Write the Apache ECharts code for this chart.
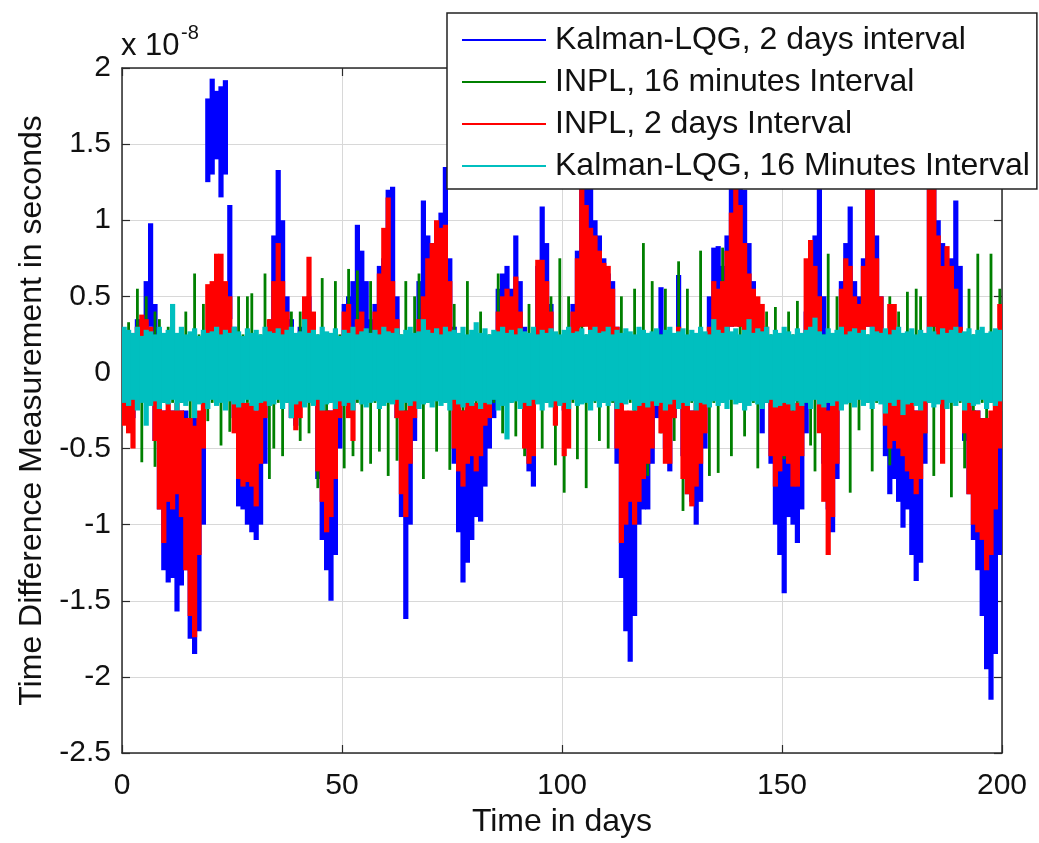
<!DOCTYPE html>
<html>
<head>
<meta charset="utf-8">
<script src="https://cdn.jsdelivr.net/npm/echarts@6/dist/echarts.min.js"></script>
<style>
html,body{margin:0;padding:0;background:#fff;}
#chart{width:1039px;height:843px;}
</style>
</head>
<body>
<div id="chart"></div>
<script>
// Values in units of 1e-8 s: daily maximum (Hi) and minimum (Lo) for day 0..199
const seriesNames = ['Kalman-LQG, 2 days interval','INPL, 16 minutes Interval','INPL, 2 days Interval','Kalman-LQG, 16 Minutes Interval'];
const xTicks = [0, 50, 100, 150, 200];
const yTicks = [-2.5, -2, -1.5, -1, -0.5, 0, 0.5, 1, 1.5, 2];

const blueHi = [
0.15,0.2,0.25,0.35,0.35,0.6,0.98,0.45,-0.25,-0.25,
-0.25,-0.25,-0.25,-0.25,-0.25,-0.3,-0.3,-0.3,-0.25,1.8,
1.93,1.85,1.88,1.92,1.1,0.3,-0.2,-0.25,-0.25,-0.25,
-0.25,-0.25,-0.2,0.3,0.9,1.33,1.0,0.5,0.35,0.15,
0.3,0.48,0.5,0.3,-0.2,-0.25,-0.25,-0.25,-0.25,0.1,
0.45,0.5,0.6,0.97,0.8,0.6,0.35,0.45,0.7,0.75,
1.2,1.22,0.5,-0.2,-0.25,-0.25,0.2,0.6,1.13,0.9,
0.85,0.9,1.05,1.35,0.75,0.3,-0.25,-0.25,-0.25,-0.25,
-0.25,-0.25,-0.2,0.1,0.2,0.55,0.65,0.7,0.55,0.9,
0.6,0.3,-0.2,-0.2,0.7,1.09,0.85,0.45,0.2,0.2,
0.15,0.2,0.45,0.8,1.45,1.4,1.25,1.0,0.9,0.75,
0.65,0.6,0.3,-0.25,-0.3,-0.3,-0.3,-0.25,-0.25,-0.25,
-0.2,0.2,0.56,0.1,-0.2,0.2,0.64,-0.2,-0.25,-0.25,
-0.25,-0.25,0.1,0.5,0.82,0.83,0.7,0.9,1.25,1.45,
1.4,1.2,0.85,0.6,0.35,0.3,0.2,-0.2,-0.25,-0.25,
-0.25,-0.25,-0.25,-0.25,-0.2,0.4,0.7,0.9,1.3,0.5,
-0.2,-0.2,0.1,0.6,0.85,1.09,0.6,0.5,0.75,1.3,
1.4,0.9,0.5,0.2,-0.2,-0.2,-0.25,-0.25,-0.25,-0.25,
-0.25,-0.25,0.1,1.35,1.4,1.0,0.85,0.7,0.75,1.13,
0.7,0.2,-0.2,-0.25,-0.25,-0.3,-0.3,-0.3,-0.3,-0.2];
const blueLo = [
-0.2,-0.2,-0.3,-0.2,0.1,0.2,0.3,-0.45,-0.9,-1.3,
-1.38,-1.35,-1.57,-1.4,-1.3,-1.75,-1.85,-1.7,-1.0,1.25,
1.3,1.4,1.15,1.3,0.35,-0.3,-0.88,-0.9,-1.0,-1.05,
-1.1,-1.0,-0.6,0.1,0.25,0.3,0.25,0.1,-0.3,-0.35,
0.0,0.1,0.15,-0.2,-0.7,-1.1,-1.3,-1.5,-1.2,-0.5,
0.1,0.15,0.1,0.25,0.2,0.15,0.1,0.1,0.2,0.25,
0.2,0.15,-0.3,-0.95,-1.62,-1.0,-0.45,0.1,0.2,0.25,
0.2,0.25,0.3,0.25,0.1,-0.6,-1.05,-1.38,-1.25,-1.1,
-0.95,-0.98,-0.75,-0.5,-0.3,0.1,0.15,0.2,0.15,0.2,
0.1,-0.3,-0.65,-0.75,0.1,0.2,0.15,0.0,-0.2,-0.2,
-0.25,-0.2,0.1,0.2,0.3,0.35,0.3,0.25,0.2,0.2,
0.15,0.1,-0.6,-1.35,-1.7,-1.9,-1.6,-1.0,-0.9,-0.9,
-0.6,-0.3,0.1,-0.5,-0.65,-0.3,0.1,-0.55,-0.8,-0.85,
-1.0,-0.85,-0.5,0.1,0.2,0.2,0.15,0.25,0.3,0.35,
0.3,0.25,0.2,0.1,0.0,-0.4,-0.2,-0.6,-1.0,-1.2,
-1.45,-0.95,-1.0,-1.12,-0.9,-0.4,0.1,0.2,0.2,-0.6,
-0.9,-1.05,-0.7,0.1,0.2,0.2,0.1,0.1,0.2,0.3,
0.3,0.15,0.0,-0.55,-0.8,-0.7,-0.85,-1.02,-0.9,-1.2,
-1.37,-1.25,-0.6,0.2,0.3,0.25,0.2,0.15,0.2,0.2,
0.0,-0.45,-0.8,-1.1,-1.3,-1.6,-1.95,-2.15,-1.85,-1.2];

const greenHi = [
0.25,0.33,0.25,0.55,0.25,0.5,0.25,0.4,0.35,0.25,
0.3,0.33,0.25,0.25,0.4,0.25,0.65,0.25,0.45,0.25,
0.35,0.25,0.4,0.25,0.45,0.25,0.5,0.25,0.5,0.52,
0.25,0.25,0.65,0.35,0.25,0.25,0.45,0.25,0.4,0.25,
0.4,0.25,0.45,0.25,0.25,0.62,0.25,0.25,0.6,0.25,
0.25,0.68,0.25,0.67,0.25,0.25,0.6,0.25,0.55,0.25,
0.25,0.45,0.25,0.25,0.6,0.25,0.5,0.65,0.25,0.25,
0.25,0.55,0.25,0.25,0.25,0.45,0.25,0.25,0.6,0.25,
0.25,0.4,0.25,0.25,0.25,0.65,0.25,0.25,0.4,0.25,
0.25,0.25,0.45,0.25,0.25,0.45,0.25,0.5,0.25,0.75,
0.25,0.5,0.25,0.25,0.6,0.25,0.45,0.25,0.25,0.5,
0.25,0.5,0.25,0.5,0.25,0.25,0.55,0.25,0.85,0.25,
0.6,0.25,0.25,0.55,0.25,0.25,0.73,0.25,0.55,0.25,
0.25,0.8,0.25,0.25,0.5,0.25,0.82,0.25,0.25,0.25,
0.5,0.25,0.25,0.45,0.25,0.25,0.4,0.25,0.43,0.25,
0.25,0.4,0.25,0.47,0.25,0.45,0.25,0.25,0.4,0.25,
0.78,0.25,0.5,0.25,0.25,0.45,0.25,0.25,0.58,0.25,
0.25,0.45,0.25,0.25,0.5,0.25,0.4,0.25,0.53,0.25,
0.55,0.5,0.25,0.25,0.5,0.25,0.25,0.55,0.25,0.5,
0.25,0.25,0.55,0.25,0.78,0.25,0.25,0.78,0.25,0.55];
const greenLo = [
-0.2,-0.2,-0.2,-0.2,-0.59,-0.2,-0.2,-0.62,-0.2,-0.2,
-0.46,-0.2,-0.5,-0.2,-0.2,-0.57,-0.2,-0.2,-0.29,-0.32,
-0.2,-0.2,-0.48,-0.2,-0.39,-0.2,-0.2,-0.45,-0.2,-0.5,
-0.2,-0.2,-0.2,-0.7,-0.5,-0.2,-0.55,-0.2,-0.2,-0.2,
-0.45,-0.2,-0.4,-0.2,-0.76,-0.2,-0.5,-0.2,-0.2,-0.2,
-0.63,-0.2,-0.55,-0.2,-0.65,-0.2,-0.6,-0.2,-0.52,-0.2,
-0.68,-0.2,-0.58,-0.2,-0.5,-0.2,-0.2,-0.2,-0.7,-0.2,
-0.2,-0.52,-0.2,-0.2,-0.64,-0.2,-0.2,-0.5,-0.2,-0.2,
-0.45,-0.2,-0.2,-0.2,-0.2,-0.2,-0.4,-0.2,-0.2,-0.42,
-0.2,-0.55,-0.2,-0.2,-0.2,-0.5,-0.2,-0.2,-0.61,-0.2,
-0.79,-0.2,-0.2,-0.57,-0.2,-0.76,-0.2,-0.2,-0.45,-0.2,
-0.5,-0.2,-0.2,-0.45,-0.2,-0.2,-0.5,-0.2,-0.2,-0.68,
-0.2,-0.2,-0.4,-0.2,-0.2,-0.45,-0.2,-0.91,-0.2,-0.2,
-0.4,-0.2,-0.2,-0.68,-0.2,-0.66,-0.2,-0.2,-0.55,-0.2,
-0.2,-0.42,-0.2,-0.2,-0.63,-0.2,-0.2,-0.5,-0.2,-0.2,
-0.57,-0.2,-0.45,-0.2,-0.2,-0.2,-0.48,-0.65,-0.2,-0.2,
-0.2,-0.6,-0.2,-0.2,-0.2,-0.79,-0.2,-0.38,-0.2,-0.2,
-0.65,-0.2,-0.2,-0.2,-0.61,-0.2,-0.2,-0.5,-0.2,-0.55,
-0.2,-0.2,-0.4,-0.2,-0.68,-0.2,-0.2,-0.2,-0.82,-0.2,
-0.2,-0.63,-0.2,-0.5,-0.2,-0.2,-0.45,-0.2,-0.45,-0.2];

const redHi = [
0.1,0.15,0.2,0.3,0.38,0.35,0.3,0.1,-0.2,-0.25,
-0.2,-0.25,-0.2,-0.25,-0.3,-0.3,-0.35,-0.25,-0.2,0.58,
0.6,0.78,0.78,0.6,0.5,0.25,-0.2,-0.2,-0.2,-0.2,
-0.25,-0.2,-0.1,0.35,0.6,0.85,0.6,0.4,0.1,-0.1,
0.1,0.5,0.76,0.4,-0.15,-0.2,-0.25,-0.25,-0.2,0.1,
0.4,0.45,0.1,0.35,0.4,0.2,0.15,0.4,0.65,0.95,
1.15,0.6,0.35,-0.2,-0.25,-0.2,0.1,0.35,0.5,0.75,
0.85,1.0,0.95,0.97,0.6,0.1,-0.2,-0.25,-0.2,-0.2,
-0.2,-0.2,-0.15,0.1,0.15,0.4,0.5,0.55,0.5,0.63,
0.4,-0.1,-0.2,-0.15,0.74,0.74,0.6,0.4,0.1,0.1,
-0.15,0.1,0.4,0.75,1.21,1.1,0.95,0.9,0.8,0.72,
0.7,0.55,0.3,-0.2,-0.25,-0.25,-0.25,-0.2,-0.2,-0.2,
-0.15,0.1,0.2,-0.15,-0.2,0.1,0.3,-0.2,-0.2,-0.25,
-0.2,-0.15,0.1,0.3,0.6,0.55,0.6,0.8,1.05,1.3,
1.1,0.85,0.65,0.55,0.5,0.45,0.3,-0.15,-0.2,-0.2,
-0.2,-0.2,-0.25,-0.2,-0.15,0.75,0.87,0.7,0.5,-0.2,
-0.25,-0.2,-0.1,0.55,0.75,0.7,0.5,0.45,0.7,1.25,
1.3,0.75,0.5,0.1,0.45,0.45,-0.15,-0.2,-0.2,-0.2,
-0.25,-0.2,-0.1,1.3,1.25,0.9,0.7,0.83,0.7,0.55,
0.3,0.1,-0.2,-0.25,-0.25,-0.3,-0.3,-0.25,-0.2,0.45];
const redLo = [
-0.35,-0.4,-0.5,-0.2,0.0,0.05,0.0,-0.45,-0.9,-1.12,
-0.85,-0.9,-0.8,-0.95,-1.3,-1.6,-1.74,-1.2,-0.5,0.2,
0.2,0.25,0.2,0.2,0.15,-0.4,-0.7,-0.75,-0.72,-0.75,
-0.88,-0.6,-0.3,0.1,0.2,0.25,0.2,0.0,-0.3,-0.38,
-0.3,0.1,0.15,-0.1,-0.65,-0.85,-1.05,-0.95,-0.7,-0.3,
0.05,-0.3,-0.45,0.05,0.05,0.0,-0.1,0.1,0.2,0.25,
0.25,0.15,-0.3,-0.8,-0.95,-0.6,-0.3,0.1,0.15,0.2,
0.25,0.25,0.2,0.2,0.1,-0.5,-0.65,-0.75,-0.6,-0.55,
-0.65,-0.55,-0.35,-0.3,-0.1,0.1,0.15,0.2,0.15,0.2,
0.1,-0.5,-0.6,-0.55,0.2,0.25,0.2,0.05,-0.35,-0.2,
-0.55,-0.5,0.1,0.2,0.3,0.3,0.25,0.25,0.2,0.2,
0.2,0.1,-0.5,-1.12,-1.0,-0.85,-1.0,-0.85,-0.7,-0.6,
-0.5,-0.2,-0.4,-0.6,-0.6,-0.3,0.05,-0.7,-0.8,-0.88,
-0.75,-0.6,-0.4,0.1,0.2,0.2,0.2,0.25,0.3,0.3,
0.3,0.25,0.2,0.15,0.1,0.1,0.0,-0.55,-0.75,-0.65,
-0.55,-0.6,-0.75,-0.75,-0.55,0.1,0.2,0.2,-0.4,-0.85,
-1.2,-0.95,-0.6,0.1,0.2,0.2,0.1,0.1,0.2,0.3,
0.3,0.2,0.0,-0.35,-0.5,-0.45,-0.5,-0.55,-0.65,-0.7,
-0.8,-0.7,-0.4,0.25,0.3,0.2,-0.6,0.2,0.2,0.15,
-0.1,-0.4,-0.8,-1.0,-1.05,-1.1,-1.3,-1.2,-0.9,-0.5];

const cyanHi = [
0.3,0.28,0.26,0.3,0.24,0.28,0.27,0.25,0.3,0.26,
0.28,0.45,0.26,0.3,0.25,0.27,0.29,0.24,0.28,0.26,
0.27,0.3,0.25,0.28,0.26,0.3,0.27,0.24,0.29,0.26,
0.28,0.25,0.3,0.27,0.26,0.29,0.25,0.28,0.3,0.26,
0.27,0.35,0.26,0.28,0.25,0.3,0.27,0.26,0.29,0.24,
0.28,0.26,0.3,0.25,0.27,0.29,0.26,0.28,0.25,0.3,
0.27,0.26,0.29,0.25,0.28,0.3,0.26,0.27,0.35,0.28,
0.26,0.29,0.25,0.3,0.27,0.28,0.26,0.3,0.25,0.28,
0.33,0.26,0.29,0.25,0.28,0.27,0.3,0.26,0.28,0.25,
0.29,0.27,0.26,0.3,0.25,0.28,0.26,0.29,0.27,0.25,
0.28,0.3,0.26,0.27,0.29,0.25,0.28,0.3,0.26,0.27,
0.3,0.25,0.28,0.26,0.29,0.27,0.25,0.3,0.28,0.26,
0.27,0.29,0.25,0.28,0.3,0.26,0.27,0.29,0.25,0.28,
0.26,0.3,0.27,0.25,0.35,0.28,0.26,0.3,0.27,0.29,
0.25,0.28,0.35,0.26,0.29,0.27,0.3,0.25,0.28,0.26,
0.3,0.27,0.25,0.29,0.26,0.28,0.3,0.36,0.27,0.25,
0.29,0.26,0.28,0.3,0.25,0.27,0.29,0.26,0.28,0.25,
0.3,0.27,0.26,0.29,0.25,0.28,0.3,0.26,0.27,0.29,
0.25,0.28,0.26,0.3,0.27,0.25,0.29,0.26,0.28,0.3,
0.26,0.27,0.29,0.25,0.28,0.3,0.26,0.27,0.29,0.28];
const cyanLo = [
-0.2,-0.22,-0.18,-0.25,-0.2,-0.35,-0.22,-0.19,-0.24,-0.2,
-0.21,-0.18,-0.25,-0.2,-0.22,-0.19,-0.3,-0.21,-0.2,-0.24,
-0.18,-0.22,-0.2,-0.25,-0.19,-0.21,-0.23,-0.2,-0.18,-0.22,
-0.25,-0.2,-0.19,-0.22,-0.21,-0.18,-0.24,-0.2,-0.3,-0.21,
-0.19,-0.23,-0.2,-0.22,-0.18,-0.25,-0.21,-0.2,-0.24,-0.19,
-0.22,-0.2,-0.25,-0.18,-0.21,-0.23,-0.2,-0.19,-0.24,-0.22,
-0.2,-0.21,-0.18,-0.25,-0.2,-0.22,-0.19,-0.24,-0.21,-0.2,
-0.23,-0.19,-0.22,-0.2,-0.25,-0.18,-0.21,-0.23,-0.2,-0.22,
-0.19,-0.24,-0.2,-0.21,-0.18,-0.25,-0.22,-0.44,-0.2,-0.19,
-0.24,-0.2,-0.22,-0.18,-0.21,-0.25,-0.2,-0.23,-0.19,-0.22,
-0.2,-0.24,-0.18,-0.22,-0.21,-0.2,-0.25,-0.19,-0.23,-0.2,
-0.22,-0.19,-0.24,-0.2,-0.21,-0.18,-0.25,-0.22,-0.2,-0.23,
-0.19,-0.22,-0.2,-0.25,-0.21,-0.18,-0.24,-0.2,-0.22,-0.19,
-0.25,-0.2,-0.21,-0.23,-0.19,-0.22,-0.2,-0.24,-0.18,-0.21,
-0.2,-0.25,-0.22,-0.19,-0.21,-0.24,-0.2,-0.18,-0.23,-0.22,
-0.2,-0.21,-0.25,-0.19,-0.22,-0.2,-0.24,-0.18,-0.21,-0.23,
-0.2,-0.22,-0.19,-0.25,-0.21,-0.2,-0.23,-0.18,-0.22,-0.2,
-0.24,-0.19,-0.21,-0.27,-0.2,-0.22,-0.18,-0.28,-0.21,-0.2,
-0.22,-0.25,-0.19,-0.2,-0.23,-0.21,-0.18,-0.24,-0.2,-0.22,
-0.19,-0.25,-0.2,-0.22,-0.21,-0.18,-0.24,-0.2,-0.22,-0.19];

// one record per day: [day centre, daily max, daily min]
function dailyRange(hi, lo) {
  const out = [];
  for (let d = 0; d < hi.length; d++) out.push([d + 0.5, hi[d], lo[d]]);
  return out;
}

const FONT = '"Liberation Sans", Arial, Helvetica, sans-serif';
const TXT = '#111';
const AXC = '#2a2a2a';

const chart = echarts.init(document.getElementById('chart'), null, {renderer: 'canvas'});

const axisCommon = {
  axisLine: {show: true, onZero: false, lineStyle: {color: AXC, width: 1.5}},
  axisTick: {show: true, inside: true, length: 8, lineStyle: {color: AXC, width: 1.2}},
};

// draws each day's max..min span as a vertical band (fullWidth) or a thin stroke
function mkSeries(name, hi, lo, color, fullWidth, thinPx) {
  return {
    name: name, type: 'custom', data: dailyRange(hi, lo),
    animation: false, silent: true, clip: true,
    itemStyle: {color: color},
    encode: {x: 0, y: [1, 2]},
    renderItem: function (params, api) {
      const x = api.value(0), h = api.value(1), l = api.value(2);
      const top = api.coord([x, h]);
      const bot = api.coord([x, l]);
      let w;
      if (fullWidth) {
        const a = api.coord([x - 0.5, h]), b = api.coord([x + 0.5, h]);
        w = (b[0] - a[0]) + 0.8;
      } else {
        w = thinPx;
      }
      return {
        type: 'rect',
        shape: {x: top[0] - w / 2, y: top[1], width: w, height: Math.max(1, bot[1] - top[1])},
        style: {fill: color}
      };
    }
  };
}

chart.setOption({
  backgroundColor: '#fff',
  animation: false,
  grid: {left: 122, right: 37, top: 68, bottom: 82, containLabel: false},
  xAxis: [
    Object.assign({
      type: 'value', position: 'bottom', min: xTicks[0], max: xTicks[xTicks.length - 1], interval: 50,
      axisLabel: {show: true, fontSize: 30, color: TXT, fontFamily: FONT, margin: 18},
      splitLine: {show: true, lineStyle: {color: '#d8d8d8', width: 1}},
      name: 'Time in days', nameLocation: 'middle', nameGap: 53,
      nameTextStyle: {fontSize: 32, color: TXT, fontFamily: FONT}
    }, axisCommon),
    Object.assign({
      type: 'value', position: 'top', min: xTicks[0], max: xTicks[xTicks.length - 1], interval: 50,
      axisLabel: {show: false}, splitLine: {show: false}
    }, axisCommon)
  ],
  yAxis: [
    Object.assign({
      type: 'value', position: 'left', min: yTicks[0], max: yTicks[yTicks.length - 1], interval: 0.5,
      axisLabel: {show: true, fontSize: 30, color: TXT, fontFamily: FONT, margin: 11},
      splitLine: {show: true, lineStyle: {color: '#d8d8d8', width: 1}},
      name: 'Time Difference Measurement in seconds', nameLocation: 'middle', nameGap: 74,
      nameTextStyle: {fontSize: 32, color: TXT, fontFamily: FONT}
    }, axisCommon),
    Object.assign({
      type: 'value', position: 'right', min: yTicks[0], max: yTicks[yTicks.length - 1], interval: 0.5,
      axisLabel: {show: false}, splitLine: {show: false}
    }, axisCommon)
  ],
  legend: {
    show: true, orient: 'vertical', left: 447, top: 13,
    itemWidth: 84, itemHeight: 2, itemGap: 6,
    padding: [9, 7, 5, 15],
    backgroundColor: '#fff', borderColor: '#222', borderWidth: 1.5,
    selectedMode: false, z: 20,
    textStyle: {fontSize: 32, color: TXT, fontFamily: FONT, lineHeight: 36, padding: [0, 0, 0, 4]},
    data: seriesNames.map(function (n) { return {name: n, icon: 'rect'}; })
  },
  graphic: [
    {type: 'text', left: 121, top: 31, z: 30, style: {text: 'x 10', font: '31px ' + FONT, fill: TXT}},
    {type: 'text', left: 181, top: 23, z: 30, style: {text: '-8', font: '20px ' + FONT, fill: TXT}}
  ],
  series: [
    mkSeries(seriesNames[0], blueHi, blueLo, '#0000ff', true, 0),
    mkSeries(seriesNames[1], greenHi, greenLo, '#008000', false, 2.8),
    mkSeries(seriesNames[2], redHi, redLo, '#ff0000', true, 0),
    mkSeries(seriesNames[3], cyanHi, cyanLo, '#00bfbf', true, 0)
  ]
});
</script>
</body>
</html>
